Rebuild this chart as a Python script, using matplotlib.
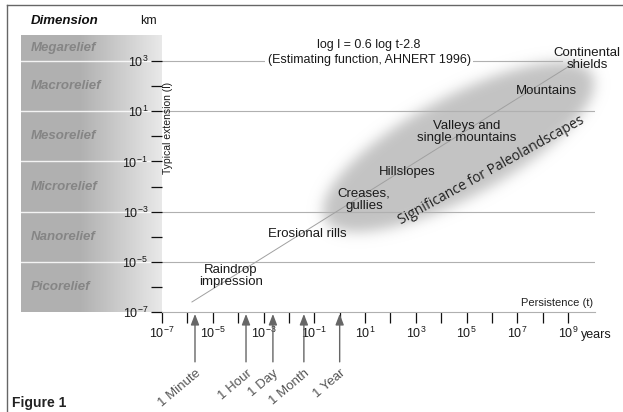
import numpy as np
import matplotlib
matplotlib.use('Agg')
import matplotlib.pyplot as plt
from matplotlib.lines import Line2D
from matplotlib.ticker import FixedLocator, NullFormatter, FuncFormatter

plt.rcParams['font.family'] = ['Liberation Sans', 'DejaVu Sans']
plt.rcParams['mathtext.fontset'] = 'custom'
plt.rcParams['mathtext.rm'] = 'Liberation Sans'
plt.rcParams['mathtext.it'] = 'Liberation Sans:italic'
plt.rcParams['mathtext.bf'] = 'Liberation Sans:bold'
plt.rcParams['mathtext.default'] = 'regular'
plt.rcParams['axes.unicode_minus'] = False

# ---------------- data ----------------
x_major_exp = [-7, -5, -3, -1, 1, 3, 5, 7, 9]
x_minor_exp = [-6, -4, -2, 0, 2, 4, 6, 8]
y_major_exp = [-7, -5, -3, -1, 1, 3]
y_minor_exp = [-6, -4, -2, 0, 2]
x_limits_exp = (-7.0, 10.06)
y_limits_exp = (-7.0, 4.04)

gridline_exp = [3, 1, -3, -5]
gridline_end = [0.924, 1.0, 1.0, 1.0]

relief_names = ['Megarelief', 'Macrorelief', 'Mesorelief',
                'Microrelief', 'Nanorelief', 'Picorelief']
relief_bounds_exp = [4.04, 3, 1, -1, -3, -5, -7]

trend_t_exp = [-5.82, 9.3]
trend_l_exp = [-6.6, 2.96]

landform_labels = ['Raindrop\nimpression', 'Erosional rills', 'Creases,\ngullies',
                   'Hillslopes', 'Valleys and\nsingle mountains', 'Mountains',
                   'Continental\nshields']
landform_t_exp = [-4.28, -1.27, 0.96, 2.67, 5.02, 8.13, 9.75]
landform_l_exp = [-5.57, -3.89, -2.52, -1.42, 0.17, 1.80, 3.10]

time_labels = ['1 Minute', '1 Hour', '1 Day', '1 Month', '1 Year']
time_t_exp = [-5.70, -3.69, -2.63, -1.41, 0.0]

# significance ellipse (centre in decades, semi-axes in px, angle in deg)
ell_center_exp = (4.66, -0.45)
ell_semi_px = (152, 50)
ell_angle = 28.5
ell_blur_px = 6.5
text_angle = 29

# ---------------- figure ----------------
W, H = 623, 412
fig = plt.figure(figsize=(W / 100, H / 100), dpi=100)


def fr(x0, y0, x1, y1):
    return [x0 / W, 1 - y1 / H, (x1 - x0) / W, (y1 - y0) / H]


main_box = (162, 35, 595, 312)
pos = fr(*main_box)
ax_w_px = main_box[2] - main_box[0]
ax_h_px = main_box[3] - main_box[1]

# ---- left relief panel ----
axp = fig.add_axes(fr(21, 35, 162, 312), zorder=1)
axp.set_yscale('log')
axp.set_xlim(0, 1)
axp.set_ylim(10 ** y_limits_exp[0], 10 ** y_limits_exp[1])
xe = np.linspace(0, 1, 201)
xc = 0.5 * (xe[:-1] + xe[1:])
shade = np.where(xc < 0.42, 0.69, 0.69 + (0.91 - 0.69) * (xc - 0.42) / 0.58)
axp.pcolormesh(xe, [10 ** y_limits_exp[0], 10 ** y_limits_exp[1]], shade[None, :],
               cmap='gray', vmin=0, vmax=1, shading='flat')
for b in relief_bounds_exp[1:-1]:
    axp.axhline(10 ** b, color='white', lw=1.0, alpha=0.85)
for name, top, bot in zip(relief_names, relief_bounds_exp[:-1], relief_bounds_exp[1:]):
    axp.text(0.07, 10 ** ((top + bot) / 2), name, ha='left', va='center',
             fontsize=9.5, fontweight='bold', fontstyle='italic', color='#858585')
axp.axis('off')

# ---- ellipse background ----
axb = fig.add_axes(pos, zorder=2)
gx = np.linspace(x_limits_exp[0] - 3, x_limits_exp[1] + 3, 900)
gy = np.linspace(y_limits_exp[0] - 3, y_limits_exp[1] + 3, 560)
ppx = ax_w_px / (x_limits_exp[1] - x_limits_exp[0])
ppy = ax_h_px / (y_limits_exp[1] - y_limits_exp[0])
X, Y = np.meshgrid(gx, gy)
dx = (X - ell_center_exp[0]) * ppx
dy = (Y - ell_center_exp[1]) * ppy
th = np.deg2rad(ell_angle)
u = dx * np.cos(th) + dy * np.sin(th)
v = -dx * np.sin(th) + dy * np.cos(th)
mask = (((u / ell_semi_px[0]) ** 2 + (v / ell_semi_px[1]) ** 2) <= 1).astype(float)
sx = ell_blur_px / ((gx[1] - gx[0]) * ppx)
sy = ell_blur_px / ((gy[1] - gy[0]) * ppy)
ky = np.fft.fftfreq(mask.shape[0])
kx = np.fft.fftfreq(mask.shape[1])
G = np.exp(-2 * np.pi ** 2 * ((sy * ky[:, None]) ** 2 + (sx * kx[None, :]) ** 2))
alpha = np.clip(np.real(np.fft.ifft2(np.fft.fft2(mask) * G)), 0, 1)
rgba = np.zeros(mask.shape + (4,))
rgba[..., :3] = 0.765
rgba[..., 3] = alpha
img = axb.imshow(rgba, extent=(gx[0], gx[-1], gy[0], gy[-1]), origin='lower',
                 aspect='auto', interpolation='bilinear')
img.set_clip_on(False)
axb.set_xlim(*x_limits_exp)
axb.set_ylim(*y_limits_exp)
axb.axis('off')

# ---- main axes ----
ax = fig.add_axes(pos, zorder=3)
ax.patch.set_alpha(0)
ax.set_xscale('log')
ax.set_yscale('log')
ax.set_xlim(10 ** x_limits_exp[0], 10 ** x_limits_exp[1])
ax.set_ylim(10 ** y_limits_exp[0], 10 ** y_limits_exp[1])

fmt = FuncFormatter(lambda v, p: r'$10^{%d}$' % int(round(np.log10(v))))
ax.xaxis.set_major_locator(FixedLocator([10.0 ** e for e in x_major_exp]))
ax.xaxis.set_minor_locator(FixedLocator([10.0 ** e for e in x_minor_exp]))
ax.yaxis.set_major_locator(FixedLocator([10.0 ** e for e in y_major_exp]))
ax.yaxis.set_minor_locator(FixedLocator([10.0 ** e for e in y_minor_exp]))
ax.xaxis.set_major_formatter(fmt)
ax.yaxis.set_major_formatter(fmt)
ax.xaxis.set_minor_formatter(NullFormatter())
ax.yaxis.set_minor_formatter(NullFormatter())
ax.tick_params(axis='both', which='both', direction='out', length=8, width=0.9,
               color='#111111', labelsize=9, pad=2, labelcolor='#1a1a1a')

for s in ['top', 'right', 'left']:
    ax.spines[s].set_visible(False)
ax.spines['bottom'].set_color('#b0b0b0')
ax.spines['bottom'].set_linewidth(0.8)

for e, end in zip(gridline_exp, gridline_end):
    ax.axhline(10 ** e, xmin=0, xmax=end, color='#b0b0b0', lw=0.8, zorder=1)

ax.plot(10.0 ** np.array(trend_t_exp), 10.0 ** np.array(trend_l_exp),
        color='#a0a0a0', lw=0.7, zorder=2)

for lab, t, l in zip(landform_labels, landform_t_exp, landform_l_exp):
    ax.text(10 ** t, 10 ** l, lab, ha='center', va='center', fontsize=9.5,
            color='#1a1a1a', linespacing=1.0, zorder=4)

ax.text(10 ** 1.16, 10 ** 3.64, 'log l = 0.6 log t-2.8', ha='center', va='center',
        fontsize=9, color='#1a1a1a', zorder=4)
ax.text(10 ** 1.16, 10 ** 3.06, '(Estimating function, AHNERT 1996)', ha='center',
        va='center', fontsize=9, color='#1a1a1a', zorder=4,
        bbox=dict(facecolor='white', edgecolor='none', pad=1.5))

ax.text(10 ** 5.97, 10 ** -1.34, 'Significance for Paleolandscapes', rotation=text_angle,
        rotation_mode='anchor', ha='center', va='center', fontsize=10,
        family=['Open Sans', 'DejaVu Sans'], color='#222222', zorder=4)

ax.text(10 ** -6.76, 10 ** 0.33, 'Typical extension (l)', rotation=90, ha='center',
        va='center', fontsize=7.5, color='#1a1a1a')
ax.text(0.995, 0.032, 'Persistence (t)', transform=ax.transAxes, ha='right',
        va='center', fontsize=8, color='#222222')
ax.text(10 ** 9.51, -0.094, 'years', transform=ax.get_xaxis_transform(), ha='left',
        va='baseline', fontsize=9, color='#1a1a1a')

for lab, e in zip(time_labels, time_t_exp):
    ax.annotate('', xy=(10 ** e, -0.007), xycoords=('data', 'axes fraction'),
                xytext=(10 ** e, -0.18), textcoords=('data', 'axes fraction'),
                arrowprops=dict(arrowstyle='-|>,head_length=0.65,head_width=0.25',
                                color='#666666', lw=1.0, shrinkA=0, shrinkB=0),
                annotation_clip=False)
    ax.annotate(lab, xy=(10 ** e, 0), xycoords=('data', 'axes fraction'),
                xytext=(3, -43), textcoords='offset points', rotation=40,
                rotation_mode='anchor', ha='right', va='center', fontsize=9.5,
                color='#555555', annotation_clip=False)

# ---- figure decorations ----
fig.add_artist(Line2D([7 / W, 1], [1 - 5 / H, 1 - 5 / H], color='#666666', lw=1.0))
fig.add_artist(Line2D([7 / W, 7 / W], [1 - 5 / H, 0], color='#666666', lw=1.0))
fig.text(31 / W, 1 - 21 / H, 'Dimension', ha='left', va='center', fontsize=9.5,
         fontweight='bold', fontstyle='italic', color='#111111')
fig.text(148.5 / W, 1 - 21 / H, 'km', ha='center', va='center', fontsize=9,
         color='#1a1a1a')
fig.text(12 / W, 1 - 403 / H, 'Figure 1', ha='left', va='center', fontsize=10,
         fontweight='bold', color='#222222')

fig.savefig('out.png', dpi=100)
